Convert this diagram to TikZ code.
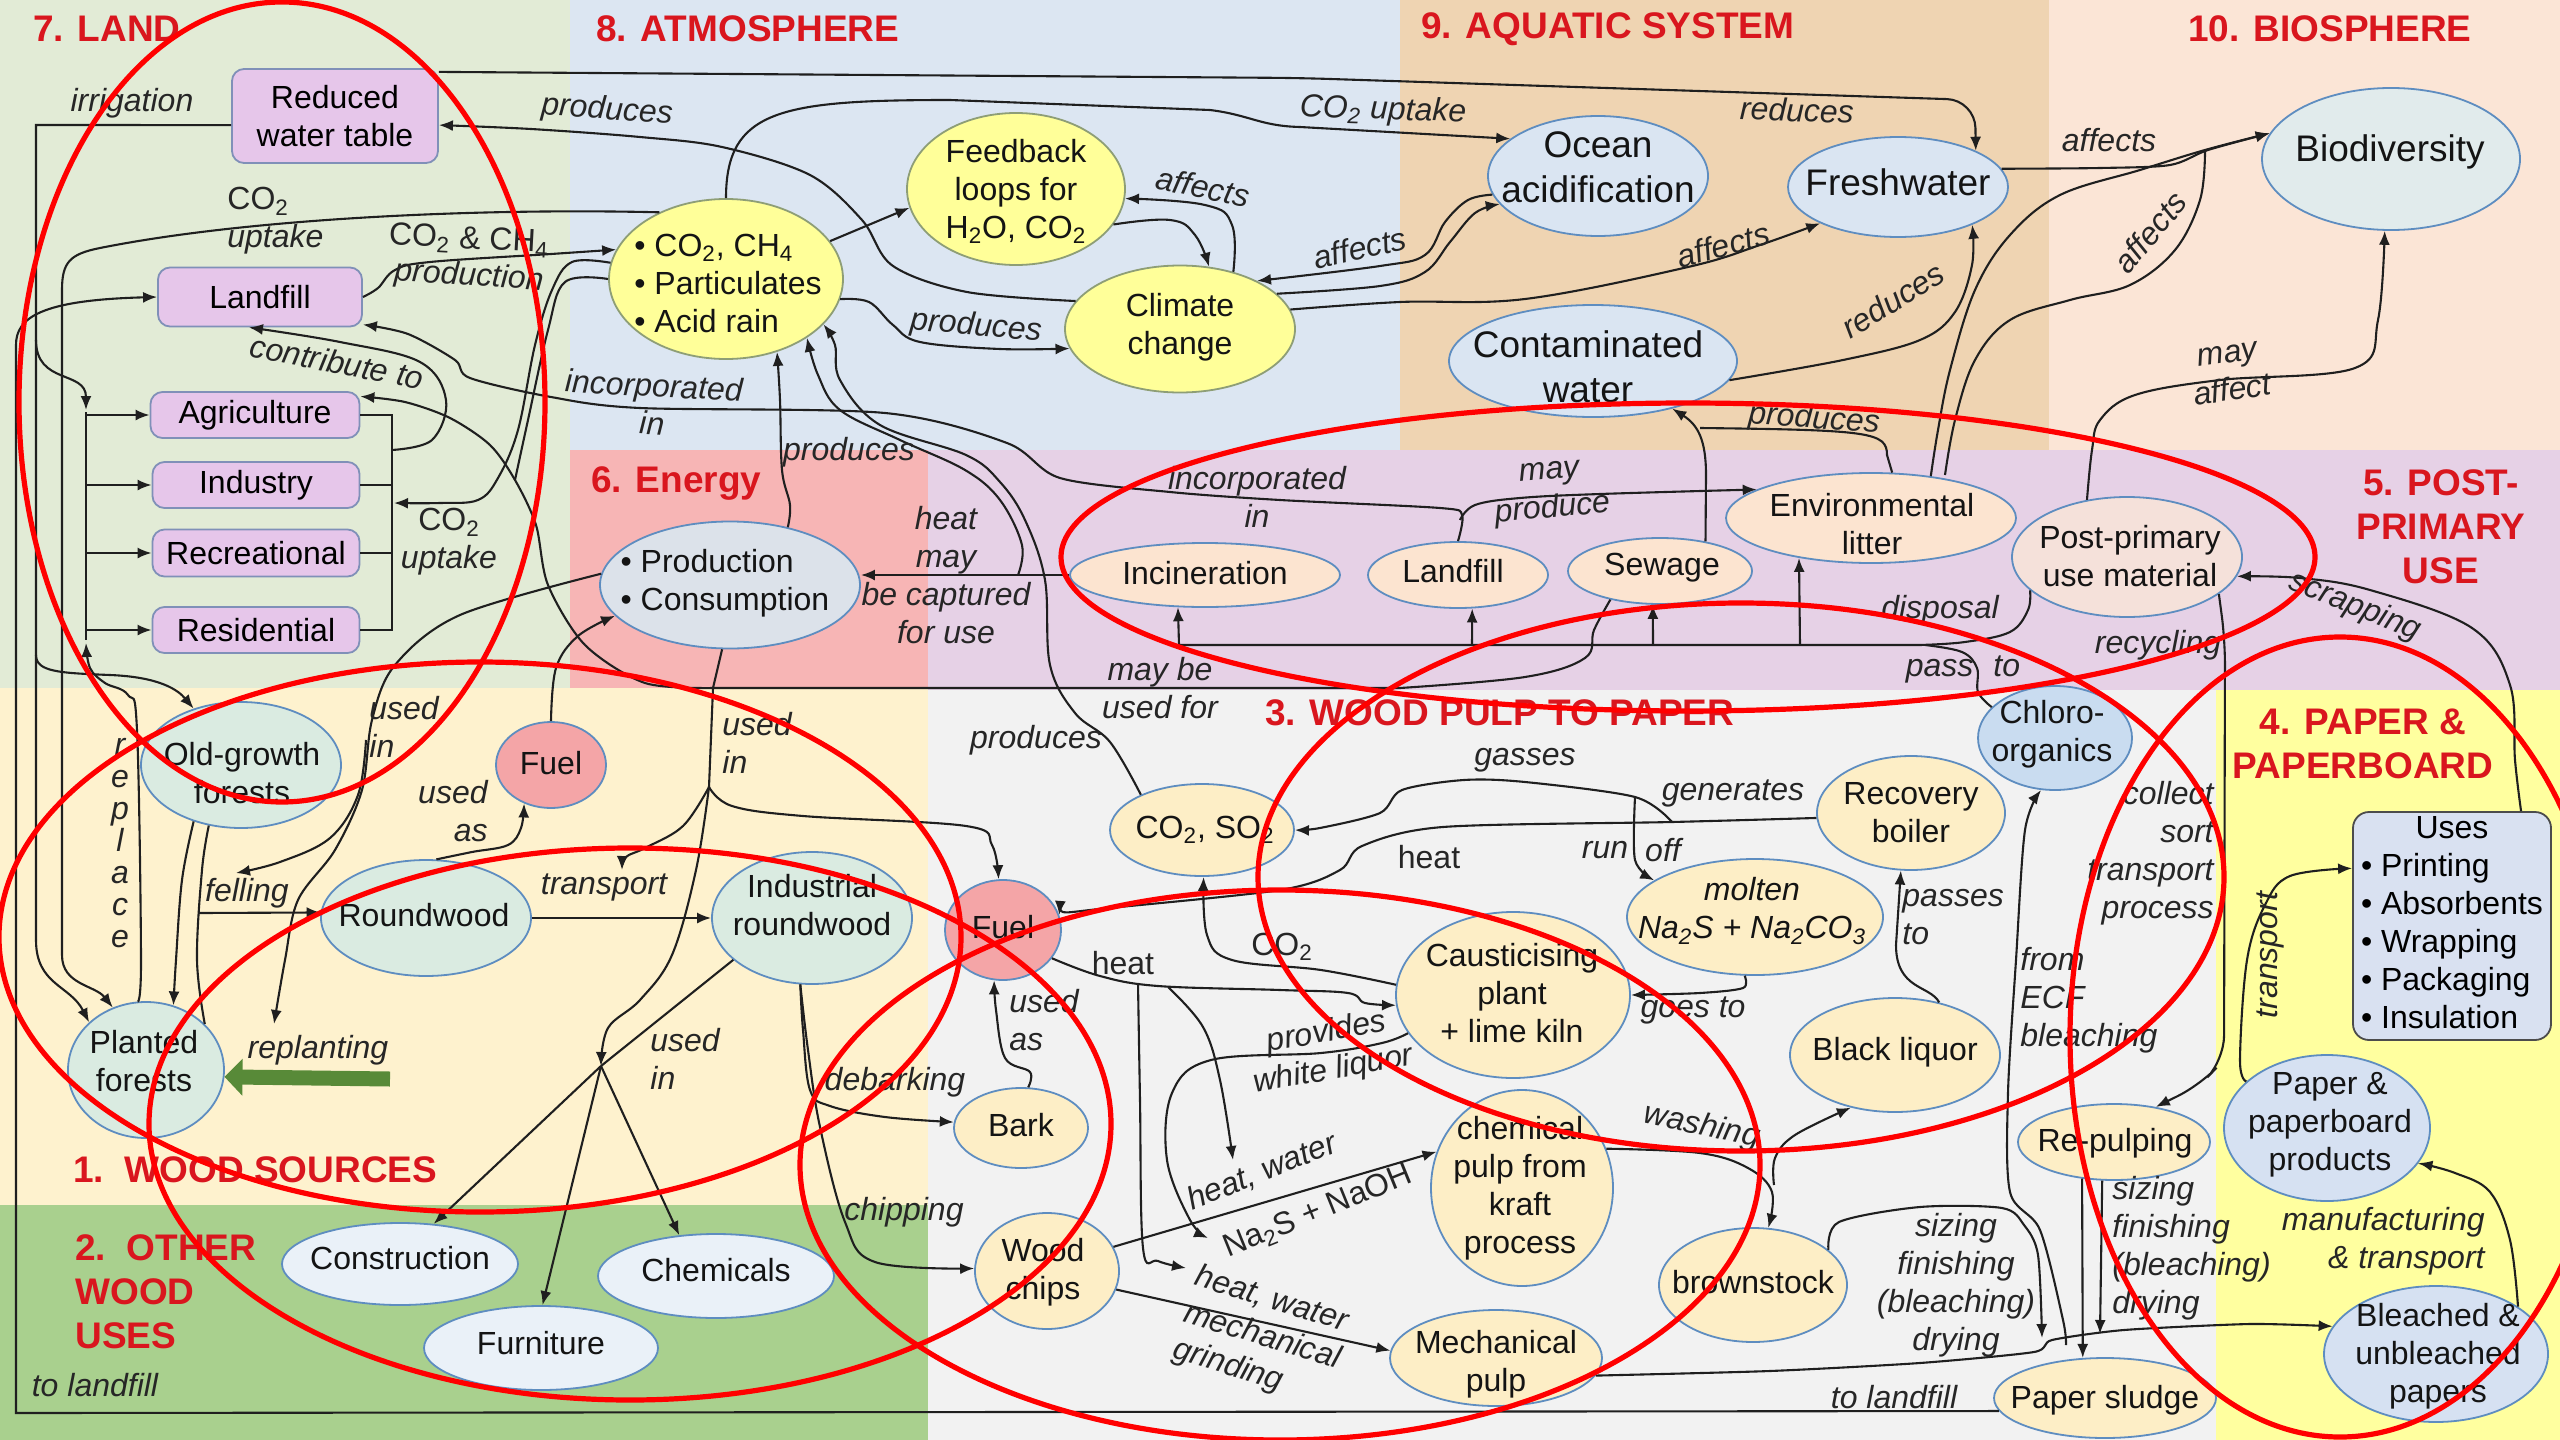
\documentclass[tikz,border=0pt]{standalone}
\usepackage{fontspec}
\setmainfont{Liberation Sans}
\usetikzlibrary{shapes.geometric,arrows.meta}
\definecolor{bgLand}{HTML}{E2EBD6}
\definecolor{bgAtm}{HTML}{DCE6F2}
\definecolor{bgAqua}{HTML}{EFD4B2}
\definecolor{bgBio}{HTML}{FBE5D6}
\definecolor{bgPost}{HTML}{E6D1E6}
\definecolor{bgEnergy}{HTML}{F7B5B5}
\definecolor{bgWood}{HTML}{FEF2CE}
\definecolor{bgOther}{HTML}{A9D08E}
\definecolor{bgPulp}{HTML}{F2F2F2}
\definecolor{bgPaper}{HTML}{FFFF9F}
\definecolor{titleRed}{HTML}{D9161E}
\definecolor{lilac}{HTML}{E6C6EA}
\definecolor{bdLand}{HTML}{8090B8}
\definecolor{yelF}{HTML}{FFFF99}
\definecolor{bdYel}{HTML}{8E9E76}
\definecolor{waterF}{HTML}{DAE5F2}
\definecolor{bdBlue}{HTML}{5E8DC0}
\definecolor{bioF}{HTML}{E1EBEC}
\definecolor{prodF}{HTML}{DCE2EA}
\definecolor{peachF}{HTML}{FCE4D0}
\definecolor{ppuF}{HTML}{F5E1DA}
\definecolor{chlF}{HTML}{C9DCF0}
\definecolor{creamF}{HTML}{FDEEC6}
\definecolor{fuelF}{HTML}{F4A5A7}
\definecolor{forestF}{HTML}{DAEBE1}
\definecolor{otherF}{HTML}{EAF1F8}
\definecolor{paperF}{HTML}{D6E1F2}
\definecolor{usesF}{HTML}{D9E1F1}
\definecolor{arrowGreen}{HTML}{588A38}
\newcommand\lsub[1]{\textsubscript{#1}}
\newcommand\nf{\fontsize{16}{19}\selectfont}
\newcommand\af{\fontsize{18.5}{22.5}\selectfont}
\newcommand\tf{\fontsize{18.5}{22}\selectfont\bfseries}
\begin{document}
\begin{tikzpicture}[x=0.5pt,y=-0.5pt,
  ln/.style={draw=black!88, line width=1.05pt},
  arr/.style={ln, -{Latex[length=7pt,width=5.5pt]}},
  ov/.style={ellipse, inner sep=0pt, line width=0.9pt, draw=bdBlue},
  sYel/.style={ov, fill=yelF, draw=bdYel},
  sWat/.style={ov, fill=waterF},
  sBio/.style={ov, fill=bioF},
  sProd/.style={ov, fill=prodF},
  sPeach/.style={ov, fill=peachF},
  sPpu/.style={ov, fill=ppuF},
  sChl/.style={ov, fill=chlF},
  sCream/.style={ov, fill=creamF},
  sFuel/.style={ov, fill=fuelF},
  sForest/.style={ov, fill=forestF},
  sOther/.style={ov, fill=otherF},
  sPaper/.style={ov, fill=paperF},
  lbox/.style={rectangle, rounded corners=6pt, draw=bdLand, fill=lilac, line width=0.9pt, font=\nf, inner sep=0pt, align=center},
  tx/.style={font=\nf, align=center, inner sep=0pt, text=black!92},
  atx/.style={font=\af, align=center, inner sep=0pt, text=black!92},
  lb/.style={font=\nf\itshape, align=center, inner sep=0pt, text=black!85},
  lbu/.style={font=\nf, align=center, inner sep=0pt, text=black!85},
  ttl/.style={font=\tf, text=titleRed, inner sep=0pt, align=left},
  ttlc/.style={font=\tf, text=titleRed, inner sep=0pt, align=center},
  redring/.style={draw=red, line width=2.6pt},
  garr/.style={draw=arrowGreen, line width=7.5pt, -{Triangle[length=9pt,width=18pt]}}
]
\useasboundingbox (0,0) rectangle (2560,1440);
\clip (0,0) rectangle (2560,1440);
% ---------- backgrounds
\fill[bgLand] (0,0) rectangle (570,688);
\fill[bgAtm] (570,0) rectangle (1400,450);
\fill[bgAqua] (1400,0) rectangle (2049,450);
\fill[bgBio] (2049,0) rectangle (2560,450);
\fill[bgEnergy] (570,450) rectangle (928,690);
\fill[bgPost] (928,450) rectangle (2560,690);
\fill[bgWood] (0,688) rectangle (928,1205);
\fill[bgOther] (0,1205) rectangle (928,1440);
\fill[bgPulp] (928,690) rectangle (2216,1440);
\fill[bgPaper] (2216,690) rectangle (2560,1440);
% ---------- titles
\node[ttl, anchor=west] (t7) at (33,29) {7. LAND};
\node[ttl, anchor=west] (t8) at (596,29) {8. ATMOSPHERE};
\node[ttl, anchor=west] (t9) at (1421,29) {9. AQUATIC SYSTEM};
\node[ttl, anchor=west] (t10) at (2188,29) {10. BIOSPHERE};
\node[ttl, anchor=west] (t6) at (591,483) {6. Energy};
\node[ttlc] (t5) at (2441,527) {5. POST-\\PRIMARY\\USE};
\node[ttl, anchor=west] (t3) at (1265,713) {3. WOOD PULP TO PAPER};
\node[ttlc] (t4) at (2363,744) {4. PAPER \&\\PAPERBOARD};
\node[ttl, anchor=west] (t1) at (73,1170) {1.\ \ WOOD SOURCES};
\node[ttl, anchor=west] (t2) at (75,1292) {2.\ \ OTHER\\WOOD\\USES};
% ---------- land boxes
\node[lbox, minimum width=103pt, minimum height=47pt] (rwt) at (335,116) {Reduced\\water table};
\node[lbox, minimum width=102pt, minimum height=29.5pt] (lf1) at (260,297) {Landfill};
\node[lbox, minimum width=104.5pt, minimum height=23pt] (agr) at (255,415) {Agriculture};
\node[lbox, minimum width=103.5pt, minimum height=23pt] (ind) at (256,485) {Industry};
\node[lbox, minimum width=103.5pt, minimum height=23.5pt] (rec) at (256,553) {Recreational};
\node[lbox, minimum width=103.5pt, minimum height=23pt] (res) at (256,630) {Residential};
% ---------- ellipses
\node[sYel, minimum width=117pt, minimum height=80pt] (pol) at (726,279) {};
\node[sYel, minimum width=109pt, minimum height=76pt] (fb) at (1016,189) {};
\node[sYel, minimum width=115pt, minimum height=63.5pt] (cc) at (1180,329) {};
\node[sWat, minimum width=110pt, minimum height=60pt] (oa) at (1598,176) {};
\node[sWat, minimum width=110pt, minimum height=50pt] (fw) at (1898,187) {};
\node[sWat, minimum width=144pt, minimum height=56pt] (cw) at (1593,361) {};
\node[sBio, minimum width=129pt, minimum height=71pt] (bio) at (2391,159) {};
\node[sProd, minimum width=130pt, minimum height=63.5pt] (prod) at (730,585) {};
\node[sPeach, minimum width=135pt, minimum height=32pt] (inc) at (1205,575) {};
\node[sPeach, minimum width=90pt, minimum height=33pt] (lf2) at (1458,575) {};
\node[sPeach, minimum width=92pt, minimum height=33pt] (sew) at (1660,571) {};
\node[sPeach, minimum width=145pt, minimum height=45pt] (el) at (1871,518) {};
\node[sPpu, minimum width=115pt, minimum height=60pt] (ppu) at (2127,557) {};
\node[sChl, minimum width=77pt, minimum height=52pt] (chl) at (2055,738) {};
\node[sCream, minimum width=92pt, minimum height=46pt] (cso) at (1202,830) {};
\node[sCream, minimum width=94pt, minimum height=57pt] (rb) at (1911,813) {};
\node[sCream, minimum width=128pt, minimum height=58pt] (mol) at (1755,917) {};
\node[sCream, minimum width=117pt, minimum height=83pt] (cau) at (1513,995) {};
\node[sCream, minimum width=105pt, minimum height=57pt] (bl) at (1895,1055) {};
\node[sFuel, minimum width=58pt, minimum height=50pt] (fu2) at (1003,930) {};
\node[sCream, minimum width=67pt, minimum height=40pt] (bark) at (1021,1128) {};
\node[sCream, minimum width=72pt, minimum height=58pt] (wc) at (1047,1271) {};
\node[sCream, minimum width=91pt, minimum height=98pt] (cp) at (1522,1188) {};
\node[sCream, minimum width=106pt, minimum height=48pt] (mp) at (1496,1358) {};
\node[sCream, minimum width=94pt, minimum height=57pt] (bs) at (1753,1285) {};
\node[sCream, minimum width=96pt, minimum height=38pt] (rp) at (2114,1142) {};
\node[sCream, minimum width=111pt, minimum height=40pt] (ps) at (2105,1398) {};
\node[sPaper, minimum width=103pt, minimum height=73pt] (ppp) at (2327,1128) {};
\node[sPaper, minimum width=112pt, minimum height=68pt] (bup) at (2436,1354) {};
\node[sForest, minimum width=100pt, minimum height=63pt] (og) at (241,765) {};
\node[sFuel, minimum width=55pt, minimum height=43pt] (fu1) at (551,765) {};
\node[sForest, minimum width=105pt, minimum height=58pt] (rw) at (426,918) {};
\node[sForest, minimum width=100pt, minimum height=66pt] (ir) at (812,918) {};
\node[sForest, minimum width=78pt, minimum height=68pt] (pf) at (146,1070) {};
\node[sOther, minimum width=118pt, minimum height=41pt] (con) at (400,1264) {};
\node[sOther, minimum width=117pt, minimum height=42pt] (fur) at (541,1348) {};
\node[sOther, minimum width=118pt, minimum height=42pt] (che) at (716,1276) {};
\node[rectangle, rounded corners=8pt, draw=black!70, fill=usesF, line width=0.9pt, minimum width=99pt, minimum height=113.5pt, inner sep=0pt, font=\nf] (uses) at (2452,926)
  {\begin{tabular}{@{}l@{}}\multicolumn{1}{@{}c@{}}{Uses}\\• Printing\\• Absorbents\\• Wrapping\\• Packaging\\• Insulation\end{tabular}};
% ---------- node texts
\node[tx, align=left] (pol-t) at (728,283) {• CO\lsub{2}, CH\lsub{4}\\• Particulates\\• Acid rain};
\node[tx] (fb-t) at (1016,191) {Feedback\\loops for\\H\lsub{2}O, CO\lsub{2}};
\node[tx] (cc-t) at (1180,327) {Climate\\change};
\node[atx] (oa-t) at (1598,167) {Ocean\\acidification};
\node[atx] (fw-t) at (1898,182) {Freshwater};
\node[atx] (cw-t) at (1588,367) {Contaminated\\water};
\node[atx] (bio-t) at (2390,152) {Biodiversity};
\node[tx, align=left] (prod-t) at (725,583) {• Production\\• Consumption};
\node[tx] (inc-t) at (1205,573) {Incineration};
\node[tx] (lf2-t) at (1453,571) {Landfill};
\node[tx] (sew-t) at (1662,568) {Sewage};
\node[tx] (el-t) at (1872,524) {Environmental\\litter};
\node[tx] (ppu-t) at (2130,556) {Post-primary\\use material};
\node[tx] (chl-t) at (2052,734) {Chloro-\\organics};
\node[tx] (cso-t) at (1205,830) {CO\lsub{2}, SO\lsub{2}};
\node[tx] (rb-t) at (1911,813) {Recovery\\boiler};
\node[tx, font=\nf\itshape] (mol-t) at (1752,911) {molten\\Na\lsub{2}S + Na\lsub{2}CO\lsub{3}};
\node[tx] (cau-t) at (1512,993) {Causticising\\plant\\+ lime kiln};
\node[tx] (bl-t) at (1895,1052) {Black liquor};
\node[tx] (fu2-t) at (1003,927) {Fuel};
\node[tx] (bark-t) at (1021,1125) {Bark};
\node[tx] (wc-t) at (1043,1272) {Wood\\chips};
\node[tx] (cp-t) at (1520,1188) {chemical\\pulp from\\kraft\\process};
\node[tx] (mp-t) at (1496,1364) {Mechanical\\pulp};
\node[tx] (bs-t) at (1753,1282) {brownstock};
\node[tx] (rp-t) at (2115,1143) {Re-pulping};
\node[tx] (ps-t) at (2105,1400) {Paper sludge};
\node[tx] (ppp-t) at (2330,1125) {Paper \&\\paperboard\\products};
\node[tx] (bup-t) at (2438,1356) {Bleached \&\\unbleached\\papers};
\node[tx] (og-t) at (242,773) {Old-growth\\forests};
\node[tx] (fu1-t) at (551,763) {Fuel};
\node[tx] (rw-t) at (424,915) {Roundwood};
\node[tx] (ir-t) at (812,905) {Industrial\\roundwood};
\node[tx] (pf-t) at (144,1061) {Planted\\forests};
\node[tx] (con-t) at (400,1258) {Construction};
\node[tx] (fur-t) at (541,1343) {Furniture};
\node[tx] (che-t) at (716,1270) {Chemicals};
% ---------- named free ends
\coordinate (rpin) at (274,1024);
\coordinate (fellA) at (236,873);
\coordinate (fellS) at (199,913);
\coordinate (trin) at (622,870);
\coordinate (hub) at (601,1066);
\coordinate (busB) at (86,643);
\coordinate (busR) at (394,503);
\coordinate (rplS) at (390,1079);
\coordinate (hw1) at (1233,1160);
\coordinate (hw2) at (1186,1268);
\coordinate (wl) at (1208,1238);
\coordinate (bl1) at (2100,1334);
\coordinate (bl2) at (2042,1338);
\coordinate (ecfS) at (2066,1345);
% ---------- LAND connectors
\draw[ln] (86,412) -- (86,640);
\draw[arr] (86,415) -- (agr.west);
\draw[arr] (86,485) -- (ind.west);
\draw[arr] (86,553) -- (rec.west);
\draw[arr] (86,630) -- (res.west);
\draw[ln] (agr.east) -- (392,415) -- (392,630) -- (res.east);
\draw[ln] (ind.east) -- (392,485);
\draw[ln] (rec.east) -- (392,553);
\draw[ln] (rwt.185) -- (36,125) -- (36,940);
\draw[arr] (36,340) .. controls (36,385) and (86,370) .. (86,410);
\draw[arr] (36,655) .. controls (36,672) and (60,673) .. (110,675) .. controls (160,677) and (178,690) .. (og.130);
\draw[arr] (36,940) .. controls (36,985) and (70,985) .. (pf.140);
\draw[arr] (pol.135) .. controls (480,208) and (250,218) .. (100,248) .. controls (70,254) and (62,262) .. (62,290) -- (62,955) .. controls (62,985) and (95,985) .. (pf.118);
\draw[arr] (ps.187) -- (16,1413) -- (16,345) .. controls (16,318) and (40,300) .. (lf1.west);
\draw[arr, rounded corners=14pt] (rwt.23) -- (1300,78) -- (1975,100) -- (fw.25);
\draw[arr] (pol.north) .. controls (726,110) and (780,100) .. (950,100) -- (1210,110) .. controls (1250,115) and (1260,126) .. (1300,127) -- (oa.157);
\draw[arr] plot[smooth, tension=0.55] coordinates {(cc.165) (967,292) (893,266) (862,220) (810,175) (722,147) (640,137) (531,129) (rwt.-5)};
\draw[arr] plot[smooth, tension=0.6] coordinates {(lf1.east) (378,288) (395,270) (430,262) (551,254) (pol.165)};
\draw[arr] plot[smooth, tension=0.6] coordinates {(392,450) (432,440) (446,400) (420,362) (340,342) (lf1.250)};
\draw[arr] plot[smooth, tension=0.5] coordinates {(lf2.north) (1462,515) (1440,508) (1280,500) (1170,492) (1060,478) (1007,443) (885,413) (640,408) (551,397) (470,378) (455,360) (408,334) (lf1.-15)};
\draw[arr] plot[smooth, tension=0.6] coordinates {(1460,520) (1475,505) (1520,498) (1600,494) (el.166)};
% ---------- atmosphere / aquatic / bio
\draw[arr] (sew.33) -- (1706,475) .. controls (1706,440) and (1698,425) .. (cw.-31);
\draw[ln] (el.65) -- (1887,455) .. controls (1887,432) and (1870,430) .. (1700,428);
\draw[arr] plot[smooth, tension=0.6] coordinates {(cw.-8) (1843,360) (1920,340) (1955,312) (1972,265) (fw.-27)};
\draw[arr] plot[smooth, tension=0.6] coordinates {(el.35) (1938,430) (1950,370) (1975,290) (2010,235) (2060,195) (2140,170) (2205,150) (bio.168)};
\draw[ln] plot[smooth, tension=0.6] coordinates {(2205,152) (2200,200) (2175,250) (2130,285) (2070,300) (2010,320) (1975,360) (1955,420) (1945,475)};
\draw[arr] plot[smooth, tension=0.5] coordinates {(fw.10) (2100,168) (2170,165) (2208,150) (bio.168)};
\draw[arr] plot[smooth, tension=0.6] coordinates {(ppu.125) (2092,450) (2100,420) (2135,395) (2220,380) (2355,368) (2378,320) (bio.-95)};
\draw[arr] plot[smooth, tension=0.7] coordinates {(cc.47) (1232,225) (1205,205) (fb.-5)};
\draw[arr] plot[smooth, tension=0.7] coordinates {(fb.-20) (1170,220) (1195,235) (cc.65)};
\draw[arr] (pol.20) -- (fb.190);
\draw[arr] plot[smooth, tension=0.6] coordinates {(pol.-10) (869,302) (893,325) (920,342) (1000,349) (cc.190)};
\draw[arr] plot[smooth, tension=0.6] coordinates {(oa.190) (1468,200) (1445,222) (1425,255) (1380,266) (cc.32)};
\draw[arr] plot[smooth, tension=0.6] coordinates {(cc.20) (1380,286) (1425,272) (1450,242) (1475,213) (oa.196)};
\draw[arr] plot[smooth, tension=0.6] coordinates {(cc.10) (1400,302) (1525,299) (1688,267) (1760,245) (fw.205)};
% ---------- energy / post-primary
\draw[arr] (inc.west) -- (prod.east |- inc.west);
\draw[arr] plot[smooth, tension=0.6] coordinates {(1018,575) (1022,545) (1000,500) (965,470) (900,440) (840,410) (818,375) (pol.-36)};
\draw[arr] plot[smooth, tension=0.6] coordinates {(cso.150) (1110,742) (1075,713) (1050,665) (1045,580) (1025,520) (1000,482) (966,455) (880,425) (840,380) (835,345) (pol.-25)};
\draw[arr] plot[smooth, tension=0.6] coordinates {(prod.45) (790,505) (782,470) (780,400) (pol.-55)};
\draw[arr] plot[smooth, tension=0.6] coordinates {(fu1.north) (556,668) (578,636) (prod.195)};
\draw[arr] plot[smooth, tension=0.55] coordinates {(prod.175) (460,615) (395,665) (372,720) (362,790) (335,850) (298,900) (285,960) (rpin)};
\draw[arr] plot[smooth, tension=0.6] coordinates {(366,740) (358,795) (330,838) (280,862) (fellA)};
\draw[ln] (prod.-97) -- (713,688) -- (709,787);
\draw[arr] plot[smooth, tension=0.6] coordinates {(709,787) (732,806) (803,816) (966,826) (992,845) (fu2.95)};
\draw[arr] plot[smooth, tension=0.6] coordinates {(709,787) (683,826) (645,848) (626,857) (trin)};
\draw[arr] plot[smooth, tension=0.6] coordinates {(709,787) (696,870) (672,955) (640,1000) (608,1028) (hub)};
\draw[ln] (ir.208) -- (hub);
\draw[arr] (hub) -- (con.50);
\draw[arr] (hub) -- (fur.88);
\draw[arr] (hub) -- (che.132);
\draw[ln] plot[smooth, tension=0.6] coordinates {(ppu.199) (2028,610) (2010,632) (1965,642) (1920,645)} -- (1179,645);
\draw[arr] (1179,645) -- (inc.-130);
\draw[arr] (1472,645) -- (lf2.-67);
\draw[arr] (1653,645) -- (sew.-102);
\draw[arr] (1800,645) -- (el.-151);
\draw[ln] plot[smooth, tension=0.6] coordinates {(sew.-150) (1594,630) (1585,658) (1525,677) (1400,688)} -- (714,688);
\draw[arr] plot[smooth, tension=0.5] coordinates {(714,688) (645,683) (585,645) (548,585) (536,525) (515,480) (490,445) (450,418) (405,402) (agr.10)};
\draw[ln] plot[smooth, tension=0.6] coordinates {(pol.180) (565,282) (548,330) (528,420) (515,480)};
\draw[arr] plot[smooth, tension=0.6] coordinates {(pol.172) (572,262) (552,290) (535,345) (518,430) (498,478) (478,500) (440,503) (busR)};
\draw[ln] plot[smooth, tension=0.6] coordinates {(1925,645) (1962,652) (1977,668) (1978,692) (chl.154)};
% ---------- wood sources
\draw[arr] (rw.east) -- (ir.west);
\draw[arr] plot[smooth, tension=0.6] coordinates {(rw.80) (472,852) (508,845) (521,828) (fu1.235)};
\draw[arr] plot[smooth, tension=0.6] coordinates {(og.-130) (182,880) (176,960) (pf.67)};
\draw[ln] plot[smooth, tension=0.6] coordinates {(og.-118) (202,870) (197,960) (pf.38)};
\draw[arr] (fellS) -- (rw.177);
\draw[arr] plot[smooth, tension=0.6] coordinates {(pf.97) (141,960) (137,730) (128,695) (105,683) (90,668) (busB)};
\draw[garr] (rplS) -- (pf.-5);
% ---------- pulp
\draw[arr] plot[smooth, tension=0.6] coordinates {(ir.-100) (803,1030) (810,1090) (830,1106) (885,1117) (bark.175)};
\draw[arr] plot[smooth, tension=0.6] coordinates {(ir.-100) (808,1050) (820,1127) (845,1222) (875,1262) (wc.178)};
\draw[arr] plot[smooth, tension=0.6] coordinates {(bark.80) (1030,1072) (1005,1058) (996,1010) (fu2.-100)};
\draw[arr] plot[smooth, tension=0.6] coordinates {(fu2.-30) (1100,976) (1158,986) (1280,990) (1348,993) (1365,1003) (cau.185)};
\draw[arr] plot[smooth, tension=0.6] coordinates {(1138,983) (1140,1100) (1143,1248) (1158,1261) (hw2)};
\draw[arr] plot[smooth, tension=0.6] coordinates {(1168,987) (1203,1027) (1220,1080) (hw1)};
\draw[arr] plot[smooth, tension=0.6] coordinates {(cau.175) (1321,970) (1232,960) (1207,935) (cso.-88)};
\draw[arr] plot[smooth, tension=0.6] coordinates {(cau.200) (1382,1043) (1321,1053) (1211,1060) (1172,1093) (1167,1160) (1190,1220) (wl)};
\draw[arr] (wc.20) -- (cp.157);
\draw[arr] (wc.-15) -- (mp.176);
\draw[arr] plot[smooth, tension=0.5] coordinates {(rb.183) (1672,822) (1443,827) (1362,846) (1340,870) (1280,890) (1090,910) (fu2.15)};
\draw[arr] plot[smooth, tension=0.5] coordinates {(1672,822) (1635,797) (1525,782) (1464,780) (1402,790) (1380,813) (1320,828) (cso.east)};
\draw[arr] plot[smooth, tension=0.5] coordinates {(1635,797) (1635,860) (mol.160)};
\draw[arr] plot[smooth, tension=0.5] coordinates {(mol.-100) (1743,988) (1700,993) (cau.east)};
\draw[arr] (bl.50) .. controls (1930,985) and (1896,990) .. (1896,945) -- (rb.-100);
\draw[arr] plot[smooth, tension=0.6] coordinates {(cp.25) (1700,1153) (1748,1168) (1772,1192) (bs.75)};
\draw[arr] plot[smooth, tension=0.6] coordinates {(1774,1185) (1775,1158) (1795,1135) (bl.-130)};
\draw[arr] plot[smooth, tension=0.5] coordinates {(bs.25) (1839,1222) (1920,1207) (2002,1208) (2024,1225) (2038,1255) (bl2)};
\draw[arr] plot[smooth, tension=0.4] coordinates {(mp.-10) (1770,1371) (1920,1363) (2034,1352) (2052,1340) (2124,1330) (2250,1324) (bup.165)};
\draw[arr] (rp.-131) -- (ps.119);
\draw[arr] (rp.-107) -- (bl1);
\draw[arr] plot[smooth, tension=0.5] coordinates {(ecfS) (2063,1320) (2040,1230) (2010,1192) (2008,1093) (2016,960) (2025,830) (chl.-105)};
\draw[arr, rounded corners=12pt] (ppu.-22) -- (2225,640) -- (2224,1060) -- (2200,1085) -- (rp.40);
% ---------- paper
\draw[arr] plot[smooth, tension=0.6] coordinates {(uses.59) (2515,760) (2510,685) (2472,628) (2370,590) (2300,578) (ppu.-10)};
\draw[arr] plot[smooth, tension=0.6] coordinates {(ppp.150) (2240,1060) (2247,960) (2265,905) (2290,876) (uses.150)};
\draw[arr] plot[smooth, tension=0.6] coordinates {(bup.30) (2510,1240) (2490,1192) (2455,1173) (ppp.-21)};
% ---------- labels
\node[lb] (l-irr) at (132,103) {irrigation};
\node[lb, rotate=-4] (l-prod1) at (607,111) {produces};
\node[lb, rotate=-2] (l-co2up) at (1383,111) {CO\lsub{2} uptake};
\node[lb, rotate=-2] (l-red1) at (1797,110) {reduces};
\node[lbu, align=left, anchor=west] (l-co2u2) at (227,221) {CO\lsub{2}\\\textit{uptake}};
\node[lbu, rotate=-3] (l-cch) at (469,240) {CO\lsub{2} \& CH\lsub{4}};
\node[lb, rotate=-4] (l-prodn) at (469,277) {production};
\node[lb, rotate=-11] (l-contr) at (337,362) {contribute to};
\node[lb, rotate=-3] (l-inc1) at (653,404) {incorporated\\in};
\node[lb, rotate=-12] (l-aff1) at (1203,187) {affects};
\node[lb, rotate=-5] (l-prod2) at (976,327) {produces};
\node[lb, rotate=13] (l-aff2) at (1360,248) {affects};
\node[lb, rotate=15] (l-aff3) at (1723,245) {affects};
\node[lb, rotate=32] (l-red2) at (1893,300) {reduces};
\node[lb] (l-aff4) at (2109,140) {affects};
\node[lb, rotate=50] (l-aff5) at (2150,232) {affects};
\node[lb, rotate=8] (l-mayaff) at (2230,373) {may\\affect};
\node[lb] (l-inc2) at (1257,497) {incorporated\\in};
\node[lb, rotate=5] (l-mayprod) at (1551,493) {may\\produce};
\node[lb, rotate=-4] (l-prod3) at (1814,420) {produces};
\node[lb] (l-heat) at (946,575) {heat\\may\\be captured\\for use};
\node[lb] (l-prod4) at (849,452) {produces};
\node[lb] (l-maybe) at (1160,688) {may be\\used for};
\node[lb] (l-prod5) at (1036,740) {produces};
\node[lb] (l-disp) at (1940,610) {disposal};
\node[lb] (l-pass) at (1963,669) {pass\hspace{10pt}to};
\node[lb] (l-recyc) at (2158,645) {recycling};
\node[lb, rotate=-22] (l-scrap) at (2355,607) {scrapping};
\node[lb, align=right, anchor=east] (l-coll) at (2214,853) {collect\\sort\\transport\\process};
\node[lb] (l-gas) at (1525,760) {gasses};
\node[lb] (l-gen) at (1733,793) {generates};
\node[lbu] (l-heat2) at (1429,857) {heat};
\node[lb] (l-run) at (1605,850) {run};
\node[lb] (l-off) at (1663,850) {off};
\node[lbu] (l-co2c) at (1282,947) {CO\lsub{2}};
\node[lbu] (l-heat3) at (1123,963) {heat};
\node[lb, rotate=10] (l-white) at (1330,1052) {provides\\white liquor};
\node[lb] (l-goes) at (1693,1010) {goes to};
\node[lb, align=left, anchor=west] (l-passes) at (1902,917) {passes\\to};
\node[lb, rotate=-12] (l-wash) at (1702,1127) {washing};
\node[lb, align=left, anchor=west] (l-ecf) at (2020,1000) {from\\ECF\\bleaching};
\node[lb, align=left, anchor=west] (l-usedas2) at (1009,1020) {used\\as};
\node[lb] (l-debark) at (895,1082) {debarking};
\node[lb] (l-chip) at (904,1212) {chipping};
\node[lb, rotate=22] (l-hw1) at (1262,1172) {heat, water};
\node[lbu, rotate=22] (l-naoh) at (1318,1212) {Na\lsub{2}S + NaOH};
\node[lb, rotate=-17, align=left] (l-hw2) at (1262,1337) {heat, water\\mechanical\\grinding};
\node[lb] (l-siz1) at (1956,1285) {sizing\\finishing\\(bleaching)\\drying};
\node[lb, align=left, anchor=west] (l-siz2) at (2112,1248) {sizing\\finishing\\(bleaching)\\drying};
\node[lb] (l-tl1) at (1894,1397) {to landfill};
\node[lb] (l-tl2) at (95,1385) {to landfill};
\node[lb, align=right, anchor=east] (l-manu) at (2485,1241) {manufacturing\\\& transport};
\node[lb, rotate=90] (l-trans2) at (2270,955) {transport};
\node[lb] (l-trans1) at (604,887) {transport};
\node[lb] (l-fell) at (247,893) {felling};
\node[lb, align=right, anchor=east] (l-usedas1) at (488,811) {used\\as};
\node[lb, align=left, anchor=west] (l-usedin1) at (369,727) {used\\in};
\node[lb, align=left, anchor=west] (l-usedin2) at (722,743) {used\\in};
\node[lb, align=left, anchor=west] (l-usedin3) at (650,1059) {used\\in};
\node[lb] (l-replant) at (318,1050) {replanting};
\node[lb, font=\fontsize{16}{16}\selectfont\itshape] (l-replace) at (120,843) {r\\e\\p\\l\\a\\c\\e};
\node[lbu] (l-co2u3) at (449,542) {CO\lsub{2}\\\textit{uptake}};
% ---------- red annotation rings
\draw[redring] (282,402) ellipse [x radius=263, y radius=400];
\draw[redring] (480,937) ellipse [x radius=481, y radius=275];
\draw[redring] (630,1124) ellipse [x radius=481, y radius=276];
\draw[redring] (1280,1165) ellipse [x radius=480, y radius=275];
\draw[redring] (1741,877) ellipse [x radius=483, y radius=274];
\draw[redring] (1688,557) ellipse [x radius=627, y radius=154];
\draw[redring] (2340,1037) ellipse [x radius=270, y radius=400];
\end{tikzpicture}
\end{document}
